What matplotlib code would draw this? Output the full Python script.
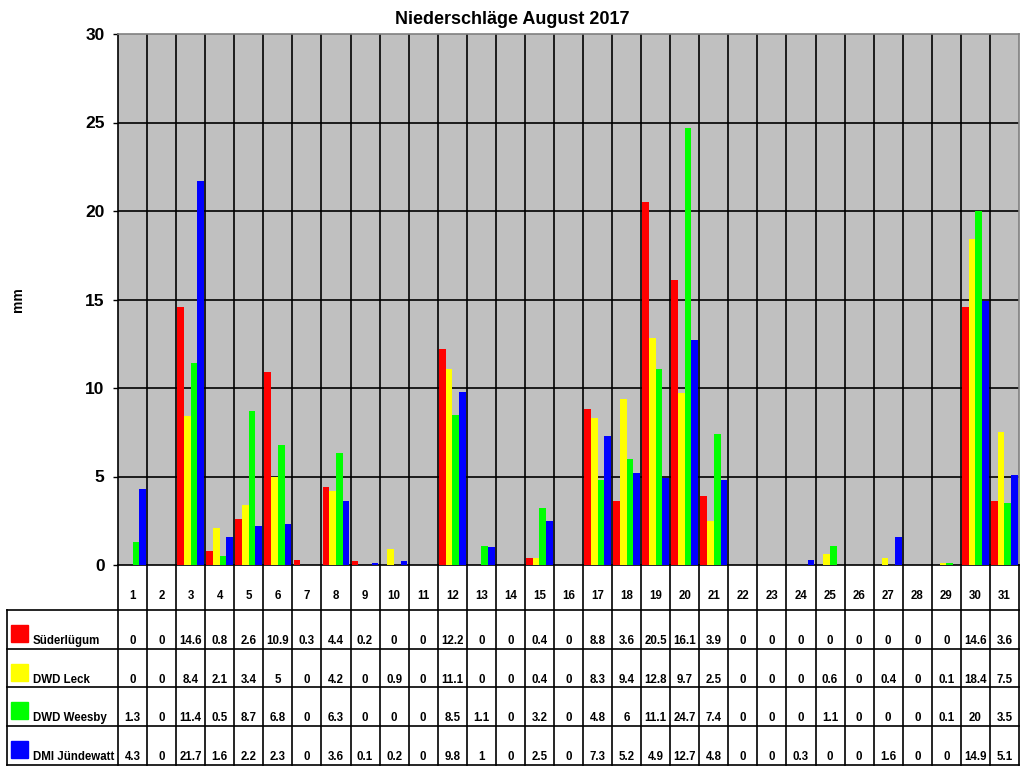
import numpy as np
import matplotlib
matplotlib.use("Agg")
import matplotlib.pyplot as plt
from matplotlib.lines import Line2D
from matplotlib.patches import Rectangle
from matplotlib.transforms import blended_transform_factory

plt.rcParams['font.family'] = ['Liberation Sans', 'DejaVu Sans']

days = [str(d) for d in range(1, 32)]
stations = ["Süderlügum", "DWD Leck", "DWD Weesby", "DMI Jündewatt"]
colors = ["#FF0000", "#FFFF00", "#00FF00", "#0000FF"]

suederluegum = [0, 0, 14.6, 0.8, 2.6, 10.9, 0.3, 4.4, 0.2, 0, 0, 12.2, 0, 0, 0.4, 0,
                8.8, 3.6, 20.5, 16.1, 3.9, 0, 0, 0, 0, 0, 0, 0, 0, 14.6, 3.6]
leck = [0, 0, 8.4, 2.1, 3.4, 5, 0, 4.2, 0, 0.9, 0, 11.1, 0, 0, 0.4, 0,
        8.3, 9.4, 12.8, 9.7, 2.5, 0, 0, 0, 0.6, 0, 0.4, 0, 0.1, 18.4, 7.5]
weesby = [1.3, 0, 11.4, 0.5, 8.7, 6.8, 0, 6.3, 0, 0, 0, 8.5, 1.1, 0, 3.2, 0,
          4.8, 6, 11.1, 24.7, 7.4, 0, 0, 0, 1.1, 0, 0, 0, 0.1, 20, 3.5]
juendewatt = [4.3, 0, 21.7, 1.6, 2.2, 2.3, 0, 3.6, 0.1, 0.2, 0, 9.8, 1, 0, 2.5, 0,
              7.3, 5.2, 4.9, 12.7, 4.8, 0, 0, 0.3, 0, 0, 1.6, 0, 0, 14.9, 5.1]
series = [suederluegum, leck, weesby, juendewatt]

W, H = 1024, 768


def fy(y):
    return 1 - y / H


def fx(x):
    return x / W


fig = plt.figure(figsize=(W / 100, H / 100), dpi=100)
ax = fig.add_axes([fx(118), fy(565), (1019 - 118) / W, (565 - 34) / H])
ax.set_facecolor("#C0C0C0")

x = np.arange(len(days))
bw = 0.23
for i, (vals, col) in enumerate(zip(series, colors)):
    ax.bar(x + (i - 1.5) * bw, vals, width=bw, color=col, zorder=3)

ax.set_xlim(-0.5, len(days) - 0.5)
ax.set_ylim(0, 30)
ax.set_yticks(range(0, 31, 5))
ax.set_yticklabels([str(v) for v in range(0, 31, 5)], fontsize=12.5, fontweight="bold")
ax.tick_params(axis="y", length=3.6, width=1, pad=6, color="black")
ax.set_xticks([])
for v in range(5, 30, 5):
    ax.axhline(v, color="black", lw=1.2, zorder=2)
for b in np.arange(0.5, len(days) - 1, 1):
    ax.axvline(b, color="black", lw=1.2, zorder=2)
for s in ["top", "right"]:
    ax.spines[s].set_color("#808080")
ax.spines["left"].set_color("black")
ax.spines["bottom"].set_color("black")
for s in ax.spines.values():
    s.set_linewidth(1.2)

fig.text(0.5, fy(19), "Niederschläge August 2017", ha="center", va="center",
         fontsize=13, fontweight="bold")
fig.text(fx(18), fy(300), "mm", rotation=90, ha="center", va="center",
         fontsize=10, fontweight="bold")

# data table below the chart
tr = blended_transform_factory(ax.transData, fig.transFigure)
row_y = [610, 649, 687, 726, 765]
lw = 1.2
for b in np.arange(-0.5, len(days), 1):
    fig.add_artist(Line2D([b, b], [fy(565), fy(765)], transform=tr, color="black", lw=lw))
for y in row_y:
    fig.add_artist(Line2D([fx(7), fx(1019)], [fy(y), fy(y)], color="black", lw=lw))
fig.add_artist(Line2D([fx(7), fx(7)], [fy(610), fy(765)], color="black", lw=lw))

for i, d in enumerate(days):
    fig.text(i, fy(596), d, transform=tr, ha="center", va="center",
             fontsize=8.3, fontweight="bold")

for r, (name, col, vals) in enumerate(zip(stations, colors, series)):
    top = row_y[r]
    fig.add_artist(Rectangle((fx(11), fy(top + 32)), 17 / W, 17 / H,
                             transform=fig.transFigure, color=col))
    fig.text(fx(33), fy(top + 31), name, ha="left", va="center",
             fontsize=8.3, fontweight="bold")
    for i, v in enumerate(vals):
        fig.text(i, fy(top + 31), f"{v:g}", transform=tr, ha="center", va="center",
                 fontsize=8.3, fontweight="bold")

fig.savefig("out.png", dpi=100, facecolor="white")
